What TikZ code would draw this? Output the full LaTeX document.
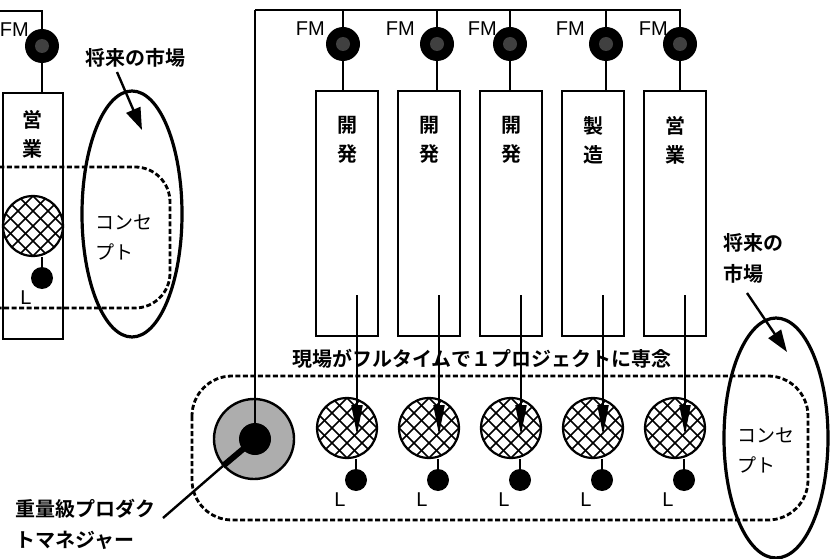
\documentclass[tikz,border=0pt]{standalone}
\usepackage{fontspec}
\setmainfont{Liberation Sans}
\newfontfamily\cjk{Noto Sans CJK JP}
\newfontfamily\cjkb{Noto Sans CJK JP Bold}
\usetikzlibrary{arrows.meta}
\begin{document}
\begin{tikzpicture}[x=1pt,y=-1pt,
  ln/.style={line width=2pt},
  fmdot/.style={circle, fill=black, minimum size=34pt, inner sep=0pt,
    path picture={\fill[black!75] (path picture bounding box.center) circle (7pt);}},
  ldot/.style={circle, fill=black, minimum size=22pt, inner sep=0pt},
  dept/.style={draw, line width=2pt, minimum width=62pt, minimum height=245pt, inner sep=0pt, anchor=north},
  hatch/.style={circle, draw, line width=2.2pt, minimum size=60pt, inner sep=0pt, fill=white,
    path picture={\foreach \k in {-60,-45,...,60}{
      \draw[line width=1.5pt] ([shift={(\k pt-40pt,-40pt)}]path picture bounding box.center) -- ++(80pt,80pt);
      \draw[line width=1.5pt] ([shift={(\k pt-40pt,40pt)}]path picture bounding box.center) -- ++(80pt,-80pt);}}},
  fmtext/.style={font=\fontsize{20}{20}\selectfont, inner sep=0pt, anchor=east},
  ltext/.style={font=\fontsize{20}{20}\selectfont, inner sep=0pt},
  jp/.style={font=\cjk\fontsize{19}{30}\selectfont, inner sep=0pt, align=left, anchor=west},
  jpb/.style={font=\cjkb\fontsize{20}{31}\selectfont, inner sep=0pt, align=left, anchor=west},
  deptxt/.style={font=\cjkb\fontsize{20}{29}\selectfont, inner sep=0pt, align=center},
  dashline/.style={line width=2.8pt, dash pattern=on 5pt off 2.5pt},
  ell/.style={line width=3.2pt},
  mktarrow/.style={line width=2.4pt, -{Triangle[length=22pt,width=15pt]}},
  inarrow/.style={line width=2pt, -{Triangle[length=30pt,width=11pt]}}
]
\useasboundingbox (0,0) rectangle (833,559);
\clip (0,0) rectangle (833,559);

% ---------- left fragment ----------
\node[fmdot] (lfm) at (42,46) {};
\node[fmtext] at (29,30) {FM};
\coordinate (lbus) at (0,11);
\draw[ln] (lbus) -| (lfm.north);
\node[dept, minimum width=60pt, minimum height=246pt] (lbox) at (33,92) {};
\draw[ln] (lfm.south) -- (lfm.south |- lbox.north);
\node[deptxt] at (33,134) {営\\業};
\node[hatch] (lh) at (33,226) {};
\node[ldot] (ld) at (42,278) {};
\draw[ln] (ld.north) -- (ld.north |- lh.south);
\node[ltext] at (26,298) {L};
\draw[dashline, rounded corners=35pt] (-40,167) rectangle (170,308);
\draw[ell] (132,214) ellipse [x radius=50, y radius=123];
\node[jpb, anchor=center] (lmkt) at (135,58) {将来の市場};
\coordinate (la0) at (117,72);
\coordinate (la1) at (142,130);
\draw[mktarrow] (la0) -- (la1);
\node[jp] (lcon) at (95,237) {コンセ\\プト};

% ---------- main structure ----------
\coordinate (bus0) at (255,10);
\foreach \i/\cx/\fx/\fl/\t in {1/347/343/325/{開\\発}, 2/429/437/415/{開\\発}, 3/511/510/497/{開\\発}, 4/593/606/585/{製\\造}, 5/675/680/668/{営\\業}}{
  \node[fmdot] (fm\i) at (\fx,44) {};
  \node[fmtext] at (\fl,29) {FM};
  \draw[ln] (fm\i.north) -- (fm\i.north |- bus0);
  \node[dept] (box\i) at (\cx,90) {};
  \draw[ln] (fm\i.south) -- (fm\i.south |- box\i.north);
  \node[deptxt] at (\cx,140) {\t};
  \node[hatch] (h\i) at (\cx,428) {};
  \coordinate (s\i) at (\cx+10,295);
  \coordinate (t\i) at (\cx+10,435);
  \draw[inarrow] (s\i) -- (t\i);
  \node[ldot] (d\i) at (\cx+9,480) {};
  \draw[ln] (d\i.north) -- (d\i.north |- h\i.south);
  \node[ltext] at (\cx-7,500) {L};
}
\draw[ln] (bus0) -| (fm5.north);

\node[jpb, font=\cjkb\fontsize{20}{20}\selectfont] (fulltime) at (292,359) {現場がフルタイムで１プロジェクトに専念};

\draw[dashline, rounded corners=40pt] (192,376) rectangle (808,520);

% heavyweight product manager
\node[circle, draw, line width=2.4pt, fill=black!32, minimum size=80pt, inner sep=0pt] (pm) at (254,439) {};
\node[circle, fill=black, minimum size=32pt, inner sep=0pt] (pmcore) at (255,439) {};
\draw[ln] (bus0) -- (pmcore.north);
\coordinate (pmend) at (163,518);
\draw[line width=6pt] (pmcore.center) -- (pm.221);
\draw[line width=2.4pt] (pm.221) -- (pmend);
\node[jpb] (pmlabel) at (15,524) {重量級プロダク\\トマネジャー};

% right market / concept
\draw[ell] (776,438) ellipse [x radius=52, y radius=120];
\node[jpb] (rmkt) at (723,258) {将来の\\市場};
\coordinate (ra0) at (747,293);
\coordinate (ra1) at (787,352);
\draw[mktarrow] (ra0) -- (ra1);
\node[jp] (rcon) at (737,450) {コンセ\\プト};
\end{tikzpicture}
\end{document}
